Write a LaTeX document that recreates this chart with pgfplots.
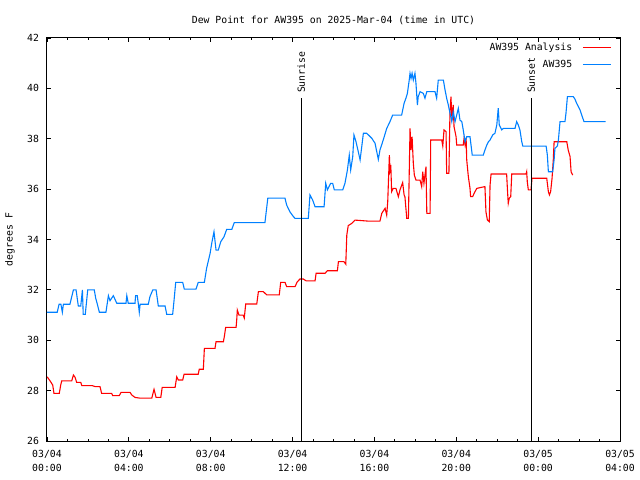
\documentclass[border=0pt]{standalone}
\usepackage{pgfplots}
\pgfplotsset{compat=1.18}
\usepackage{fontspec}
\setmainfont{DejaVu Sans Mono}
\definecolor{anred}{RGB}{255,0,0}
\definecolor{obsblue}{RGB}{0,128,255}
\begin{document}
\begin{tikzpicture}
\path[use as bounding box] (-47bp,-39bp) rectangle (593bp,441bp);
\begin{axis}[
  at={(0,0)}, anchor=south west,
  scale only axis, width=573bp, height=403bp,
  xmin=0, xmax=28, ymin=26, ymax=42,
  xtick={0,4,...,28},
  xticklabels={03/04\\00:00,03/04\\04:00,03/04\\08:00,03/04\\12:00,03/04\\16:00,03/04\\20:00,03/05\\00:00,03/05\\04:00},
  minor x tick num=3,
  ytick={26,28,...,42},
  tick align=inside,
  major tick length=4bp, minor tick length=2.5bp,
  axis line style={line width=1bp},
  every tick/.style={black, line width=0.8bp},
  /pgf/number format/assume math mode=true,
  tick label style={font=\fontsize{9.8bp}{13.8bp}\selectfont},
  xticklabel style={align=center, yshift=-5.5bp},
  yticklabel style={xshift=-4.5bp},
  title={Dew Point for AW395 on 2025-Mar-04 (time in UTC)},
  title style={font=\fontsize{9.8bp}{12bp}\selectfont, at={(axis description cs:0.5,1)}, anchor=base, yshift=9bp},
  ylabel={degrees F},
  ylabel style={font=\fontsize{9.8bp}{12bp}\selectfont, at={(axis description cs:-0.0646,0.5)}, anchor=center},
  legend plot pos=right,
  legend cell align=right,
  legend image code/.code={\path (0bp,0bp); \draw[#1] (8bp,0bp) -- (36bp,0bp);},
  legend style={at={(axis description cs:1,1)}, anchor=north east, xshift=-8.5bp, yshift=-3bp,
    draw=none, fill=none, inner sep=0pt, row sep=4bp,
    font=\fontsize{9.8bp}{12bp}\selectfont},
]
\addplot[color=anred, line width=1.1bp] coordinates {
(0,28.55) (0.06,28.49) (0.18,28.35) (0.28,28.22) (0.34,27.89) (0.60,27.89) (0.67,28.22) (0.72,28.39) (1.21,28.39) (1.29,28.62) (1.37,28.53) (1.45,28.33) (1.65,28.33) (1.70,28.20) (2.21,28.20) (2.35,28.16) (2.59,28.16) (2.67,27.89) (3.16,27.89) (3.21,27.80) (3.53,27.80) (3.62,27.93) (4.06,27.93) (4.14,27.83) (4.30,27.73) (4.55,27.70) (5.12,27.70) (5.23,28.05) (5.33,27.73) (5.56,27.73) (5.63,28.13) (6.26,28.13) (6.34,28.55) (6.42,28.42) (6.63,28.42) (6.70,28.65) (7.39,28.65) (7.44,28.85) (7.64,28.85) (7.69,29.68) (8.21,29.68) (8.26,29.94) (8.62,29.94) (8.67,30.17) (8.73,30.51) (9.24,30.51) (9.27,30.80) (9.30,31.20) (9.38,31.00) (9.59,31.00) (9.64,30.88) (9.71,31.44) (10.25,31.44) (10.33,31.93) (10.57,31.93) (10.74,31.80) (11.35,31.80) (11.42,32.30) (11.63,32.30) (11.71,32.13) (12.12,32.13) (12.23,32.32) (12.36,32.43) (12.53,32.43) (12.66,32.36) (13.10,32.36) (13.15,32.66) (13.59,32.66) (13.70,32.76) (14.19,32.76) (14.24,33.12) (14.51,33.12) (14.60,33.02) (14.65,34.18) (14.72,34.55) (14.89,34.64) (15.05,34.77) (15.70,34.73) (16.27,34.73) (16.36,35.04) (16.52,35.24) (16.60,34.97) (16.65,35.50) (16.73,37.35) (16.76,36.76) (16.80,36.96) (16.84,35.90) (16.92,36.03) (17.05,36.03) (17.17,35.70) (17.25,35.97) (17.38,36.26) (17.45,35.77) (17.49,35.70) (17.58,34.84) (17.66,34.84) (17.69,36.16) (17.74,38.41) (17.79,37.55) (17.84,38.08) (17.90,37.03) (17.95,36.56) (18.03,36.36) (18.23,36.36) (18.31,36.10) (18.36,36.69) (18.42,36.23) (18.52,36.89) (18.56,35.04) (18.72,35.04) (18.75,37.95) (19.29,37.95) (19.34,37.71) (19.40,38.35) (19.50,38.28) (19.53,36.63) (19.64,36.63) (19.69,39.01) (19.74,39.67) (19.79,38.74) (19.85,39.34) (19.89,38.48) (19.99,38.08) (20.02,37.75) (20.34,37.75) (20.38,38.02) (20.43,37.75) (20.48,38.02) (20.51,37.16) (20.59,36.49) (20.67,36.03) (20.70,35.70) (20.80,35.70) (20.87,35.83) (21.00,36.03) (21.40,36.10) (21.45,35.10) (21.52,34.77) (21.61,34.71) (21.65,36.16) (21.70,36.60) (22.46,36.60) (22.51,35.83) (22.54,35.44) (22.59,35.64) (22.66,35.70) (22.71,36.60) (23.41,36.60) (23.44,36.69) (23.47,36.29) (23.52,35.97) (23.65,35.97) (23.70,36.43) (24.42,36.43) (24.45,36.23) (24.50,35.90) (24.55,35.77) (24.61,35.90) (24.68,36.43) (24.74,37.16) (24.78,37.88) (25.40,37.88) (25.47,37.55) (25.56,37.29) (25.61,36.69) (25.69,36.56)
};
\addlegendentry{AW395 Analysis}
\addplot[color=obsblue, line width=1.1bp] coordinates {
(0,31.11) (0.50,31.11) (0.59,31.43) (0.68,31.43) (0.75,31.11) (0.80,31.43) (1.12,31.43) (1.29,32.00) (1.42,32.00) (1.53,31.36) (1.65,31.36) (1.73,32.00) (1.77,31.03) (1.87,31.03) (1.99,32.00) (2.31,32.00) (2.38,31.67) (2.46,31.43) (2.56,31.11) (2.88,31.11) (3.00,31.77) (3.08,31.57) (3.24,31.77) (3.41,31.47) (3.86,31.47) (3.90,31.77) (3.97,31.47) (4.30,31.47) (4.33,31.77) (4.41,31.77) (4.46,31.47) (4.51,31.11) (4.55,31.43) (4.95,31.43) (5.03,31.73) (5.17,32.00) (5.33,32.00) (5.44,31.36) (5.77,31.36) (5.85,31.03) (6.14,31.03) (6.21,31.60) (6.29,32.30) (6.63,32.30) (6.71,32.03) (7.28,32.03) (7.39,32.30) (7.69,32.30) (7.80,32.86) (7.97,33.45) (8.05,33.85) (8.16,34.31) (8.26,33.58) (8.37,33.58) (8.49,33.91) (8.65,34.11) (8.78,34.40) (9.03,34.40) (9.15,34.67) (10.65,34.67) (10.79,35.64) (11.63,35.64) (11.71,35.37) (11.87,35.10) (12.04,34.91) (12.12,34.84) (12.77,34.84) (12.85,35.77) (12.98,35.57) (13.10,35.30) (13.54,35.30) (13.62,36.23) (13.70,35.97) (13.86,36.23) (13.96,36.23) (14.04,35.97) (14.45,35.97) (14.56,36.23) (14.68,36.76) (14.77,37.35) (14.84,36.76) (14.94,37.29) (15.00,38.15) (15.10,37.88) (15.21,37.49) (15.30,37.16) (15.38,37.68) (15.46,38.22) (15.62,38.22) (15.87,38.02) (16.03,37.82) (16.19,37.18) (16.27,37.55) (16.43,37.95) (16.60,38.41) (16.76,38.68) (16.89,38.94) (17.33,38.94) (17.45,39.41) (17.54,39.61) (17.61,39.80) (17.70,40.33) (17.74,40.60) (17.79,40.40) (17.84,40.60) (17.90,40.33) (17.98,40.60) (18.03,40.20) (18.10,39.34) (18.14,39.67) (18.23,39.87) (18.39,39.80) (18.47,39.61) (18.56,39.87) (18.96,39.87) (19.04,39.61) (19.12,40.33) (19.37,40.33) (19.45,39.94) (19.53,39.61) (19.61,39.34) (19.78,38.68) (19.85,39.07) (19.94,38.68) (20.02,38.94) (20.10,39.21) (20.18,38.74) (20.27,38.68) (20.34,38.35) (20.43,37.88) (20.51,38.08) (20.67,38.08) (20.75,37.55) (20.78,37.35) (21.32,37.35) (21.40,37.55) (21.49,37.75) (21.57,37.88) (21.65,37.95) (21.78,38.15) (21.89,38.22) (21.98,38.55) (22.05,39.21) (22.10,38.55) (22.22,38.35) (22.30,38.41) (22.87,38.41) (22.95,38.68) (23.03,38.55) (23.11,38.35) (23.20,37.88) (23.25,37.71) (24.39,37.71) (24.45,37.35) (24.50,36.69) (24.71,36.69) (24.78,37.16) (24.82,37.62) (24.94,37.71) (24.99,37.95) (25.07,38.68) (25.31,38.68) (25.36,39.01) (25.43,39.67) (25.72,39.67) (25.80,39.57) (25.88,39.41) (26.05,39.14) (26.13,38.94) (26.24,38.68) (27.30,38.68)
};
\addlegendentry{AW395}
\addplot[black, line width=1bp, forget plot] coordinates {(12.42,26) (12.42,39.61)};
\addplot[black, line width=1bp, forget plot] coordinates {(23.66,26) (23.66,39.61)};
\node[rotate=90, anchor=west, inner xsep=5bp, inner ysep=1bp, font=\fontsize{9.8bp}{12bp}\selectfont] at (axis cs:12.42,39.61) {Sunrise};
\node[rotate=90, anchor=west, inner xsep=5bp, inner ysep=1bp, font=\fontsize{9.8bp}{12bp}\selectfont] at (axis cs:23.66,39.61) {Sunset};
\end{axis}
\end{tikzpicture}
\end{document}
